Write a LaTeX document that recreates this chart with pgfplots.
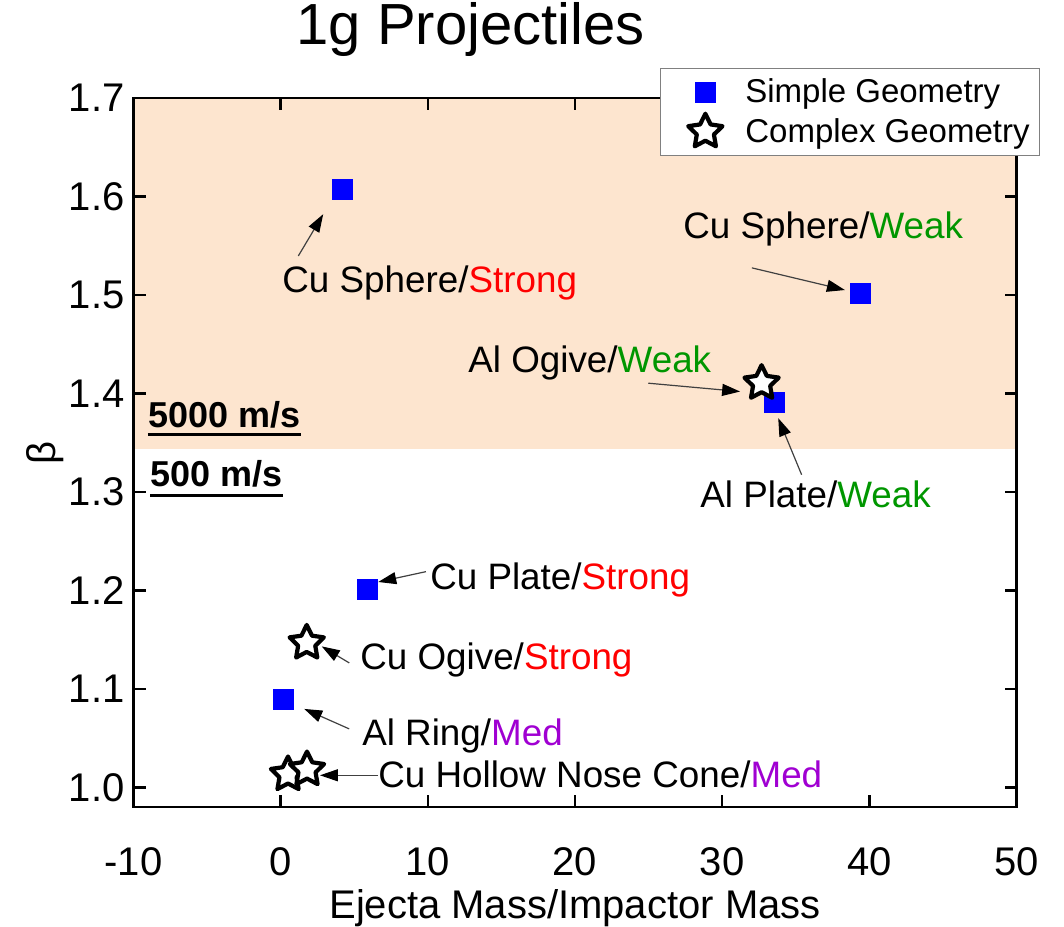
\documentclass[border=0pt]{standalone}
\usepackage{fontspec}
\setmainfont{Liberation Sans}
\usepackage{pgfplots}
\pgfplotsset{compat=1.18}
\usetikzlibrary{arrows.meta}
\definecolor{peach}{RGB}{253,229,207}
\definecolor{mygreen}{RGB}{0,150,0}
\definecolor{mypurple}{RGB}{160,0,210}
\pgfdeclareplotmark{fivestar}{%
 \pgfpathmoveto{\pgfpointpolar{90}{\pgfplotmarksize}}%
 \pgfpathlineto{\pgfpointpolar{126}{0.5\pgfplotmarksize}}%
 \pgfpathlineto{\pgfpointpolar{162}{\pgfplotmarksize}}%
 \pgfpathlineto{\pgfpointpolar{198}{0.5\pgfplotmarksize}}%
 \pgfpathlineto{\pgfpointpolar{234}{\pgfplotmarksize}}%
 \pgfpathlineto{\pgfpointpolar{270}{0.5\pgfplotmarksize}}%
 \pgfpathlineto{\pgfpointpolar{306}{\pgfplotmarksize}}%
 \pgfpathlineto{\pgfpointpolar{342}{0.5\pgfplotmarksize}}%
 \pgfpathlineto{\pgfpointpolar{18}{\pgfplotmarksize}}%
 \pgfpathlineto{\pgfpointpolar{54}{0.5\pgfplotmarksize}}%
 \pgfpathclose
 \pgfusepathqfillstroke}
\newcommand{\ann}{\fontsize{18.4}{22}\selectfont}
\pgfplotsset{widelegend/.style={legend image code/.code={\path[draw=none,fill=none] (0pt,-1pt) rectangle (37.5pt,1pt); \draw[##1, only marks] plot coordinates {(19.5pt,0pt)};}}}
\begin{document}
\begin{tikzpicture}[arr/.style={draw=black!75, line width=0.6pt, -{Triangle[length=9pt,width=6pt,color=black]}},
  lab/.style={anchor=base west, inner sep=0pt, font=\ann}]
\begin{axis}[name=ax, scale only axis, width=441.5pt, height=354.5pt,
  xmin=-10, xmax=50, ymin=0.98, ymax=1.7,
  xtick={-10,0,10,20,30,40,50},
  ytick={1.0,1.1,1.2,1.3,1.4,1.5,1.6,1.7},
  yticklabel style={/pgf/number format/fixed, /pgf/number format/fixed zerofill, /pgf/number format/precision=1, anchor=east, xshift=-1pt},
  /pgf/number format/assume math mode=true,
  tick align=inside, major tick length=6pt,
  axis line style={line width=1.3pt},
  every tick/.style={black, line width=1.3pt},
  tick label style={font=\fontsize{20}{24}\selectfont},
  xticklabel style={anchor=center, yshift=-27.5pt},
  xlabel={Ejecta Mass/Impactor Mass}, ylabel={β},
  label style={font=\fontsize{20}{24}\selectfont},
  xlabel style={at={(axis description cs:0.5,-0.143)}, anchor=center},
  ylabel style={at={(axis description cs:-0.100,0.5)}, anchor=center},
  clip=false, axis on top,
  legend style={at={(rel axis cs:0.596,1.042)}, anchor=north west, draw=gray, line width=0.6pt,
    font=\fontsize{16.5}{20}\selectfont, inner xsep=3pt, inner ysep=3pt, row sep=2pt, cells={anchor=west}},
]
\addplot[draw=none, fill=peach, forget plot] coordinates {(-10,1.3438) (50,1.3438) (50,1.7) (-10,1.7)} -- cycle;
\addplot[only marks, widelegend, mark=square*, mark size=5pt, color=blue] coordinates {
  (4.21,1.607) (39.37,1.502) (33.52,1.391) (5.87,1.2007) (0.18,1.0897)};
\addlegendentry{Simple Geometry}
\addplot[only marks, widelegend, mark=fivestar, mark size=9pt, draw=black, fill=white, line width=2.1pt, mark options={line join=round}] coordinates {
  (32.68,1.4104) (1.77,1.1466) (0.5,1.013) (1.79,1.018)};
\addlegendentry{Complex Geometry}
\node[anchor=center, font=\fontsize{29}{34}\selectfont] at (rel axis cs:0.382,1.096) {1g Projectiles};
% annotations
\node[lab] at (axis cs:0.09,1.5021) {Cu Sphere/\textcolor{red}{Strong}};
\draw[arr] (axis cs:1.20,1.5396) -- (axis cs:2.89,1.582);
\node[lab] at (axis cs:27.34,1.5571) {Cu Sphere/\textcolor{mygreen}{Weak}};
\draw[arr] (axis cs:32.02,1.5275) -- (axis cs:38.34,1.505);
\node[lab] at (axis cs:12.73,1.4209) {Al Ogive/\textcolor{mygreen}{Weak}};
\draw[arr] (axis cs:24.98,1.4104) -- (axis cs:31.22,1.4019);
\node[lab] at (axis cs:28.49,1.2839) {Al Plate/\textcolor{mygreen}{Weak}};
\draw[arr] (axis cs:35.40,1.3174) -- (axis cs:33.81,1.3749);
\node[lab] at (axis cs:10.14,1.2011) {Cu Plate/\textcolor{red}{Strong}};
\draw[arr] (axis cs:9.87,1.219) -- (axis cs:6.63,1.2085);
\node[lab] at (axis cs:5.39,1.1195) {Cu Ogive/\textcolor{red}{Strong}};
\draw[arr] (axis cs:4.66,1.1263) -- (axis cs:2.79,1.1431);
\node[lab] at (axis cs:5.52,1.0423) {Al Ring/\textcolor{mypurple}{Med}};
\draw[arr] (axis cs:4.66,1.0593) -- (axis cs:1.60,1.0796);
\node[lab] at (axis cs:6.61,0.9997) {Cu Hollow Nose Cone/\textcolor{mypurple}{Med}};
\draw[arr] (axis cs:6.63,1.0122) -- (axis cs:2.67,1.0122);
% speed labels
\node[anchor=base west, inner sep=0pt, font=\fontsize{18}{22}\selectfont\bfseries] (t1) at (axis cs:-9.02,1.3658) {5000 m/s};
\draw[line width=1.5pt] ([yshift=-3.5pt]t1.base west) -- ([yshift=-3.5pt]t1.base east);
\node[anchor=base west, inner sep=0pt, font=\fontsize{18}{22}\selectfont\bfseries] (t2) at (axis cs:-8.86,1.3055) {500 m/s};
\draw[line width=1.5pt] ([yshift=-4.5pt]t2.base west) -- ([yshift=-4.5pt]t2.base east);
\end{axis}
\pgfresetboundingbox
\path[use as bounding box] ([shift={(-66.75pt,-59.5pt)}]ax.south west) rectangle ([shift={(23.75pt,49pt)}]ax.north east);
\end{tikzpicture}
\end{document}
